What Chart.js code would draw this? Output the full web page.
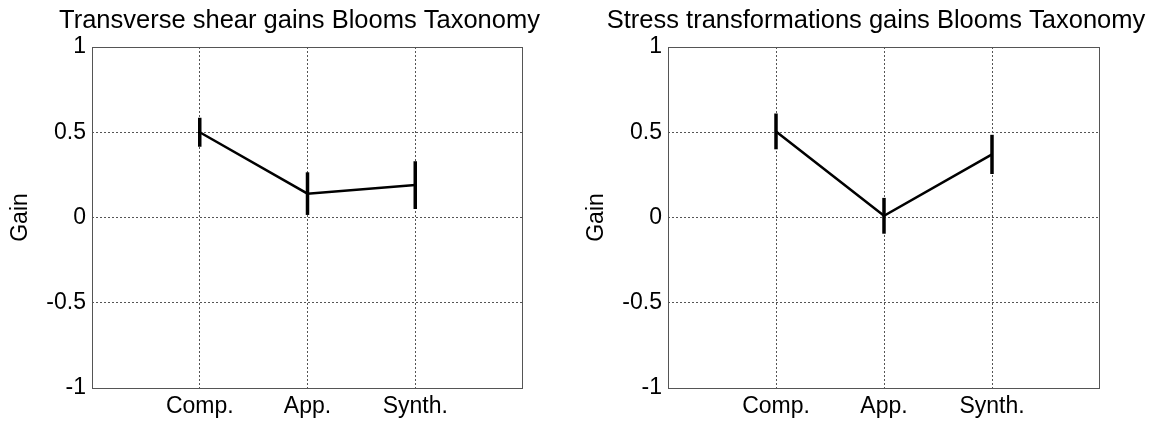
<!DOCTYPE html>
<html>
<head>
<meta charset="utf-8">
<script src="https://cdn.jsdelivr.net/npm/chart.js@4"></script>
<style>
  body { margin: 0; background: #fff; }
  .wrap { position: absolute; top: 0; height: 423px; }
</style>
</head>
<body>
<div class="wrap" style="left:0; width:576px;"><canvas id="chartLeft"></canvas></div>
<div class="wrap" style="left:576px; width:577px;"><canvas id="chartRight"></canvas></div>
<script>
// datos
const categories = ['Comp.', 'App.', 'Synth.'];
const yTicks = [-1, -0.5, 0, 0.5, 1];

const shearTitle = 'Transverse shear gains Blooms Taxonomy';
const shearGain = [0.50, 0.14, 0.19];
const shearErr = [0.085, 0.125, 0.14];

const stressTitle = 'Stress transformations gains Blooms Taxonomy';
const stressGain = [0.505, 0.01, 0.37];
const stressErr = [0.105, 0.105, 0.115];

const FONT = "'Liberation Sans', Arial, sans-serif";

// barras de error + caja + titulo
const extrasPlugin = {
    id: 'extras',
    afterDatasetsDraw(chart, args, opts) {
        const ctx = chart.ctx;
        const yScale = chart.scales.y;
        const meta = chart.getDatasetMeta(0);
        ctx.save();
        ctx.strokeStyle = '#000';
        ctx.lineWidth = 3.5;
        meta.data.forEach((pt, i) => {
            const v = opts.values[i], e = opts.errors[i];
            ctx.beginPath();
            ctx.moveTo(pt.x, yScale.getPixelForValue(v + e));
            ctx.lineTo(pt.x, yScale.getPixelForValue(v - e));
            ctx.stroke();
        });
        ctx.restore();
    },
    afterDraw(chart, args, opts) {
        const ctx = chart.ctx;
        const a = chart.chartArea;
        ctx.save();
        ctx.strokeStyle = '#555';
        ctx.lineWidth = 1;
        ctx.strokeRect(a.left + 0.5, a.top + 0.5, a.right - a.left - 1, a.bottom - a.top);
        ctx.fillStyle = '#000';
        ctx.font = '25.5px ' + FONT;
        ctx.textAlign = 'center';
        ctx.textBaseline = 'alphabetic';
        ctx.fillText(opts.title, (a.left + a.right) / 2 - 8, 28);
        ctx.restore();
    }
};

function crearGrafica(id, title, values, errors) {
    const points = values.map((v, i) => ({ x: i + 1, y: v }));
    return new Chart(document.getElementById(id), {
        type: 'line',
        data: {
            datasets: [{
                data: points,
                borderColor: '#000',
                borderWidth: 2.5,
                pointRadius: 0,
                tension: 0
            }]
        },
        options: {
            responsive: true,
            maintainAspectRatio: false,
            animation: false,
            layout: { padding: { top: 47, right: 53, left: 0, bottom: 0 } },
            plugins: {
                legend: { display: false },
                tooltip: { enabled: false },
                extras: { title: title, values: values, errors: errors }
            },
            scales: {
                x: {
                    type: 'linear',
                    min: 0, max: 4,
                    afterBuildTicks: (s) => { s.ticks = [0, 1, 2, 3, 4].map(v => ({ value: v })); },
                    afterFit: (s) => { s.height = 35; },
                    ticks: {
                        callback: (v) => categories[v - 1] || '',
                        color: '#000',
                        font: { family: FONT, size: 23 },
                        padding: 5,
                        maxRotation: 0,
                        autoSkip: false
                    },
                    grid: {
                        color: (c) => (c.tick && (c.tick.value === 0 || c.tick.value === 4)) ? 'rgba(0,0,0,0)' : '#555',
                        drawTicks: false
                    },
                    border: { display: false, dash: [2, 2] }
                },
                y: {
                    min: -1, max: 1,
                    afterBuildTicks: (s) => { s.ticks = yTicks.map(v => ({ value: v })); },
                    afterFit: (s) => { s.width = 92; },
                    ticks: {
                        callback: (v) => String(v),
                        color: '#000',
                        font: { family: FONT, size: 23 },
                        padding: 6
                    },
                    grid: {
                        color: (c) => (c.tick && Math.abs(c.tick.value) === 1) ? 'rgba(0,0,0,0)' : '#555',
                        drawTicks: false
                    },
                    border: { display: false, dash: [2, 2] },
                    title: {
                        display: true,
                        text: 'Gain',
                        color: '#000',
                        font: { family: FONT, size: 23 },
                        padding: { top: 7, bottom: 0 }
                    }
                }
            }
        },
        plugins: [extrasPlugin]
    });
}

crearGrafica('chartLeft', shearTitle, shearGain, shearErr);
crearGrafica('chartRight', stressTitle, stressGain, stressErr);
</script>
</body>
</html>
